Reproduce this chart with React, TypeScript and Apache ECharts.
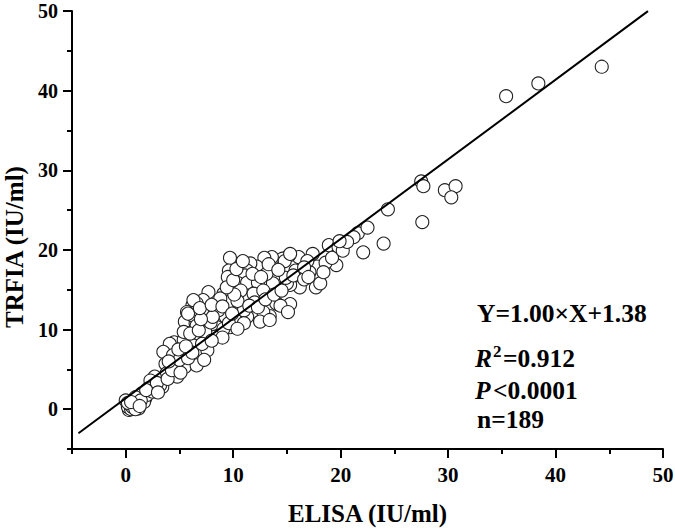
import React, { useEffect, useRef } from "react";
import * as echarts from "echarts";

const FONT = '"Liberation Serif", "Times New Roman", serif';

const xTickValues = [0, 10, 20, 30, 40, 50];
const yTickValues = [0, 10, 20, 30, 40, 50];
const xAxisTitle = "ELISA (IU/ml)";
const yAxisTitle = "TRFIA (IU/ml)";

const slope = 1.0;
const intercept = 1.38;
const fitRange = [-4.4, 48.6];

const elisa = [
  35.4, 38.4, 44.3, 27.5, 27.7, 29.7, 30.7, 30.3, 27.6, 24.4, 24.0, 21.6, 21.2, 22.1, 18.9, 19.8,
  19.6, 17.4, 17.8, 17.1, 16.1, 15.2, 14.6, 15.8, 16.2, 15.3, 17.7, 18.1, 15.3, 14.1, 13.7, 13.4,
  13.6, 9.7, 9.6, 9.5, 12.9, 12.2, 11.6, 11.3, 14.8, 13.1, 11.1, 10.5, 11.3, 12.3, 10.7, 11.9,
  12.8, 15.0, 14.0, 12.8, 12.5, 7.7, 9.1, 9.6, 8.8, 7.2, 6.6, 6.2, 7.4, 8.5, 10.8, 11.3,
  10.2, 9.3, 8.5, 9.7, 5.7, 5.5, 6.5, 7.2, 6.3, 7.6, 4.5, 5.4, 8.8, 14.4, 15.1, 13.4,
  6.2, 8.3, 6.6, 5.4, 8.3, 6.3, 4.1, 3.5, 4.4, 6.9, 7.6, 5.5, 4.6, 3.7, 3.8, 4.8,
  2.7, 2.3, 3.4, 2.1, 1.5, 1.8, 0.9, 0.0, 0.3, 0.4, 0.7, 1.0, 1.7, 0.3, 7.4, 7.1,
  9.1, 9.6, 15.3, 6.3, 5.8, 8.6, 11.0, 6.0, 6.6, 3.2, 2.0, 0.6,
  0.2, 0.5, 0.8, 1.2, 0.4, 0.6, 1.1, 0.2, 1.4, 0.9, 0.5, 1.3,
  2.5, 2.9, 1.9, 3.0, 3.9, 4.3, 5.1, 5.0, 4.0, 5.8, 6.2, 4.9, 5.6,
  6.8, 7.9, 8.1, 7.0, 6.9, 8.0, 9.0, 9.9, 10.4, 10.1, 9.4, 10.0, 10.3, 10.9, 11.8, 12.6,
  13.3, 12.0, 11.5, 12.3, 13.0, 13.8, 14.5, 14.9, 15.6, 16.6, 16.9, 14.2, 11.0, 10.4, 9.0, 8.0, 7.3,
  18.6, 19.2, 20.2, 20.6, 22.5, 16.6, 17.0, 18.4, 19.9,
];

const trfia = [
  39.3, 40.9, 43.0, 28.6, 28.0, 27.5, 28.0, 26.6, 23.5, 25.1, 20.8, 22.1, 21.6, 19.7, 20.6, 20.4,
  18.1, 19.5, 17.9, 17.2, 19.1, 19.3, 18.9, 17.4, 15.3, 15.6, 15.3, 15.8, 13.2, 13.2, 15.8, 11.7,
  19.1, 19.0, 17.4, 16.6, 19.0, 17.9, 18.3, 17.4, 18.6, 17.0, 16.8, 15.8, 15.9, 15.9, 14.9, 14.5,
  14.9, 15.8, 13.3, 12.2, 11.0, 14.7, 14.5, 13.5, 13.9, 13.7, 13.3, 13.0, 12.4, 12.5, 12.6, 11.6,
  11.2, 11.6, 10.3, 10.3, 12.2, 11.0, 10.8, 10.3, 9.3, 9.1, 8.4, 8.7, 9.4, 13.0, 12.2, 11.2,
  11.8, 12.2, 10.5, 9.7, 9.1, 8.0, 8.2, 7.2, 6.8, 6.8, 7.4, 5.3, 5.5, 5.7, 4.5, 4.1,
  4.1, 3.6, 2.8, 2.6, 2.0, 1.3, 1.5, 1.1, 0.5, 0.1, 0.1, 0.3, 0.9, -0.1, 9.7, 8.2,
  10.1, 10.8, 19.5, 13.7, 12.0, 12.4, 12.4, 9.5, 5.5, 3.0, 1.8, 0.7,
  0.3, 0.0, 0.2, 0.1, 0.6, 0.3, 0.6, 0.8, 1.1, 0.0, 0.9, 0.4,
  2.2, 3.3, 2.4, 2.1, 3.8, 4.9, 4.6, 6.2, 6.0, 6.4, 7.1, 7.5, 7.9,
  9.9, 10.9, 11.6, 11.3, 12.7, 13.1, 12.9, 12.0, 13.6, 14.4, 15.3, 16.2, 17.6, 18.6, 17.0, 16.6,
  18.2, 13.4, 13.0, 12.8, 13.8, 14.4, 14.9, 16.5, 16.8, 16.3, 18.6, 17.5, 10.8, 10.1, 9.0, 8.6, 6.2,
  18.4, 19.0, 19.9, 21.0, 22.8, 17.8, 16.6, 17.2, 21.1,
];

export default function App() {
  const ref = useRef<HTMLDivElement>(null);
  useEffect(() => {
    document.body.style.margin = "0";
    if (!ref.current) return;
    const chart = echarts.init(ref.current, null, { renderer: "svg" });
    const points = elisa.map((x, i) => [x, trfia[i]]);
    const fit = fitRange.map((x) => [x, slope * x + intercept]);
    const labelStyle = { color: "#000", fontFamily: FONT, fontWeight: "bold" as const, fontSize: 20 };
    const textStyle = (size: number, italic = false) => ({
      font: `${italic ? "italic " : ""}bold ${size}px ${FONT}`,
      fill: "#000",
      verticalAlign: "middle",
      align: "left",
    });
    const tickStyle = { color: "#000", width: 2 };
    chart.setOption({
      animation: false,
      backgroundColor: "#fff",
      grid: { left: 72, right: 12, top: 11, bottom: 82, containLabel: false, outerBoundsMode: "none" },
      xAxis: [
        {
          type: "value",
          min: -5,
          max: 50,
          interval: 5,
          name: xAxisTitle,
          nameLocation: "middle",
          nameGap: 52,
          nameTextStyle: { ...labelStyle, fontSize: 25 },
          axisLine: { show: true, onZero: false, lineStyle: { color: "#000", width: 2 } },
          axisTick: { show: true, length: 5, lineStyle: tickStyle },
          axisLabel: {
            ...labelStyle,
            fontSize: 21,
            margin: 15,
            formatter: (v: number) => (xTickValues.includes(v) ? String(v) : ""),
          },
          splitLine: { show: false },
        },
        {
          type: "value",
          min: -5,
          max: 50,
          interval: 5,
          position: "bottom",
          axisLine: { show: false, onZero: false },
          axisTick: { show: true, length: 9, customValues: xTickValues, lineStyle: tickStyle },
          axisLabel: { show: false },
          splitLine: { show: false },
        },
      ],
      yAxis: [
        {
          type: "value",
          min: -5,
          max: 50,
          interval: 5,
          name: yAxisTitle,
          nameLocation: "middle",
          nameGap: 43,
          nameTextStyle: { ...labelStyle, fontSize: 25, padding: [0, 34, 0, 0] },
          axisLine: { show: true, onZero: false, lineStyle: { color: "#000", width: 2 } },
          axisTick: { show: true, length: 5, lineStyle: tickStyle },
          axisLabel: {
            ...labelStyle,
            margin: 14,
            lineHeight: 18,
            formatter: (v: number) => (yTickValues.includes(v) ? String(v) : ""),
          },
          splitLine: { show: false },
        },
        {
          type: "value",
          min: -5,
          max: 50,
          interval: 5,
          position: "left",
          axisLine: { show: false, onZero: false },
          axisTick: { show: true, length: 9, customValues: yTickValues, lineStyle: tickStyle },
          axisLabel: { show: false },
          splitLine: { show: false },
        },
      ],
      series: [
        {
          type: "scatter",
          data: points,
          symbol: "circle",
          symbolSize: 13,
          itemStyle: { color: "#fff", borderColor: "#222", borderWidth: 1.1, opacity: 1 },
          z: 2,
        },
        {
          type: "line",
          data: fit,
          symbol: "none",
          lineStyle: { color: "#000", width: 2 },
          z: 3,
        },
      ],
      graphic: [
        { type: "text", x: 477, y: 313, style: { ...textStyle(25.5), text: "Y=1.00×X+1.38" } },
        { type: "text", x: 475, y: 358, style: { ...textStyle(25.5, true), text: "R" } },
        { type: "text", x: 493, y: 351, style: { ...textStyle(17), text: "2" } },
        { type: "text", x: 503, y: 358, style: { ...textStyle(25.5), text: "=0.912" } },
        { type: "text", x: 475, y: 390, style: { ...textStyle(25.5, true), text: "P" } },
        { type: "text", x: 493, y: 390, style: { ...textStyle(25.5), text: "<0.0001" } },
        { type: "text", x: 477, y: 419, style: { ...textStyle(25.5), text: "n=189" } },
      ],
    });
    return () => chart.dispose();
  }, []);
  return <div ref={ref} style={{ width: 675, height: 531 }} />;
}
